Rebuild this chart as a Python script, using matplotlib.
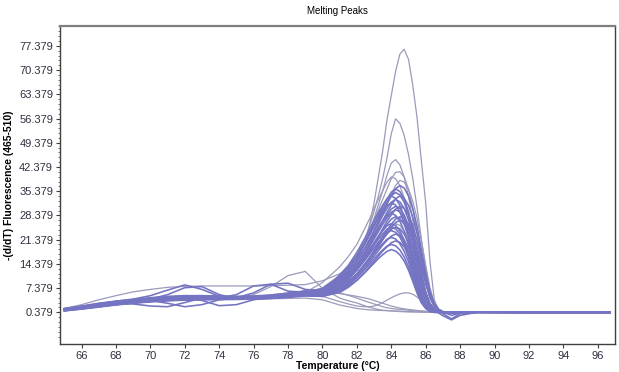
import matplotlib
matplotlib.use("Agg")
import matplotlib.pyplot as plt
from matplotlib.ticker import FixedLocator

plt.rcParams['font.family'] = ['Liberation Sans', 'DejaVu Sans']

# Temperature grid (°C) shared by all curves
temps = [65, 66, 67, 68, 69, 70, 71, 72, 73, 74, 75, 76, 77, 78, 79,
         80, 81, 81.5, 82, 82.5, 82.75, 83, 83.25, 83.5, 83.75, 84, 84.25, 84.5, 84.75, 85,
         85.25, 85.5, 85.75, 86, 86.25, 86.5, 86.75, 87,
         87.5, 88, 89, 92, 96.7]

# ---- dense band of melting curves ----
band_b37 = [1.0, 1.6, 2.3, 2.9, 3.4, 3.8, 4.1, 4.3, 4.4, 4.5, 4.5, 4.6, 4.8, 5.1, 5.8,
            6.8, 10, 12.2, 15.2, 19.2, 21.5, 24, 26.6, 29.2, 31.8, 34, 36.1, 37, 36.3, 34,
            30.3, 25.2, 18.5, 11.8, 6.3, 3.0, 1.3, 0.6, 0.3, 0.4, 0.4, 0.38, 0.38]
band_b36 = [1.4, 2.0, 2.8, 3.5, 4.0, 4.5, 4.8, 5.0, 5.0, 4.9, 4.8, 4.8, 5.0, 5.4, 6.2,
            7.2, 10.8, 13.3, 16.6, 20.9, 23.4, 25.9, 28.4, 31, 33.1, 35.1, 36, 35.3, 33.1, 29.5,
            24.5, 18, 11.5, 6.1, 2.9, 1.3, 0.6, 0.4, 0.3, 0.4, 0.4, 0.38, 0.38]
band_b35 = [0.8, 1.3, 1.9, 2.5, 3.0, 3.4, 3.7, 3.9, 4.0, 4.1, 4.1, 4.2, 4.4, 4.8, 5.4,
            7, 10.5, 13, 16.1, 20.3, 22.8, 25.2, 27.7, 30.1, 32.2, 34.1, 35, 34.3, 32.2, 28.7,
            23.8, 17.5, 11.2, 6, 2.8, 1.2, 0.5, 0.4, 0.3, 0.4, 0.4, 0.38, 0.38]
band_b34 = [1.2, 1.8, 2.5, 3.1, 3.6, 4.2, 5.5, 7.5, 7.8, 5.5, 4.3, 4.4, 4.6, 5.0, 5.8,
            6.3, 9.2, 11.2, 13.9, 17.7, 19.7, 22.1, 24.5, 26.9, 29.2, 31.3, 33.2, 34, 33.3, 31.3,
            27.9, 23.1, 17, 10.9, 5.8, 2.7, 1.2, 0.5, -0.5, 0.2, 0.4, 0.38, 0.38]
band_b34m = [1.1, 1.7, 2.4, 3.0, 3.5, 3.9, 4.2, 4.4, 4.5, 4.5, 4.5, 4.6, 4.8, 5.2, 5.9,
             6.3, 11.2, 13.9, 17.7, 22.1, 24.5, 26.9, 29.2, 31.3, 33.2, 34, 33.3, 31.3, 27.9, 23.1,
             17, 10.9, 5.8, 2.7, 1.2, 0.5, 0.4, 0.4, 0.3, 0.4, 0.4, 0.38, 0.38]
band_b33 = [1.1, 1.7, 2.4, 3.0, 3.5, 3.9, 4.2, 4.3, 4.4, 4.4, 4.6, 6.0, 8.5, 8.8, 7.0,
            6.6, 9.9, 12.2, 15.2, 19.1, 21.5, 23.8, 26.1, 28.4, 30.4, 32.2, 33, 32.3, 30.4, 27.1,
            22.4, 16.5, 10.6, 5.6, 2.6, 1.2, 0.5, 0.4, 0.3, 0.4, 0.4, 0.38, 0.38]
band_b32 = [1.3, 1.9, 2.6, 3.0, 2.8, 2.2, 2.0, 3.2, 4.5, 4.8, 4.7, 4.7, 4.9, 5.3, 6.0,
            6, 10.6, 13.1, 16.6, 20.8, 23, 25.3, 27.5, 29.4, 31.2, 32, 31.4, 29.4, 26.2, 21.8,
            16, 10.2, 5.4, 2.6, 1.1, 0.5, 0.4, 0.4, 0.3, 0.4, 0.4, 0.38, 0.38]
band_b31 = [1.0, 1.6, 2.3, 3.0, 3.6, 4.1, 4.5, 4.6, 3.8, 2.3, 2.6, 4.0, 4.8, 5.2, 5.9,
            5.7, 8.4, 10.2, 12.7, 16.1, 18, 20.2, 22.3, 24.5, 26.7, 28.5, 30.2, 31, 30.4, 28.5,
            25.4, 21.1, 15.5, 9.9, 5.3, 2.5, 1.1, 0.0, -1.5, 0, 0.4, 0.38, 0.38]
band_b31z = [1.3, 1.9, 2.6, 3.2, 3.7, 4.2, 4.5, 4.7, 4.8, 4.8, 4.7, 4.7, 4.9, 5.3, 6.0,
             6.2, 9.3, 11.5, 14.3, 18, 20.2, 22.3, 24.5, 26.7, 28.5, 30.2, 31, 30.4, 28.5, 25.4,
             21.1, 15.5, 9.9, 5.3, 2.5, 1.1, 0.5, 0.4, 0.3, 0.4, 0.4, 0.38, 0.38]
band_b30 = [1.2, 1.8, 2.5, 3.2, 3.7, 4.1, 4.3, 4.4, 4.4, 4.5, 5.5, 8.0, 8.5, 6.5, 6.2,
            6, 9, 11.1, 13.8, 17.4, 19.5, 21.6, 23.7, 25.8, 27.6, 29.3, 30, 29.4, 27.6, 24.6,
            20.4, 15, 9.6, 5.1, 2.4, 1.1, 0.5, 0.4, 0.3, 0.4, 0.4, 0.38, 0.38]
band_b29 = [1.5, 2.2, 3.0, 3.6, 4.2, 5.2, 6.8, 8.3, 7.0, 5.0, 4.5, 4.5, 4.7, 5.0, 5.6,
            6.5, 9.6, 11.9, 15.1, 18.9, 20.9, 22.9, 24.9, 26.7, 28.3, 29, 28.4, 26.7, 23.8, 19.7,
            14.5, 9.3, 4.9, 2.3, 1.0, 0.5, 0.4, 0.4, 0.3, 0.4, 0.4, 0.38, 0.38]
band_b28 = [1.1, 1.7, 2.4, 3.0, 3.5, 3.8, 3.0, 2.0, 2.6, 4.0, 4.5, 4.6, 4.8, 5.2, 5.8,
            5.6, 8.4, 10.4, 12.9, 16.2, 18.2, 20.2, 22.1, 24.1, 25.8, 27.3, 28, 27.4, 25.8, 23,
            19, 14, 9, 4.8, 2.2, 1.0, 0.2, -0.6, -1.8, -0.5, 0.4, 0.38, 0.38]
band_b28p = [0.9, 1.4, 2.0, 2.6, 3.1, 3.5, 3.9, 4.1, 4.2, 4.2, 4.2, 4.3, 4.5, 4.9, 5.4,
             5.5, 7.6, 9.2, 11.5, 14.6, 16.2, 18.2, 20.2, 22.1, 24.1, 25.8, 27.3, 28, 27.4, 25.8,
             23, 19, 14, 9, 4.8, 2.2, 1.0, 0.4, 0.3, 0.4, 0.4, 0.38, 0.38]
band_b27 = [0.9, 1.5, 2.2, 2.8, 3.3, 3.7, 4.0, 4.2, 4.3, 4.3, 4.4, 4.5, 4.6, 4.9, 5.5,
            5.5, 7.3, 8.9, 11.1, 14, 15.7, 17.6, 19.4, 21.3, 23.2, 24.8, 26.3, 27, 26.5, 24.8,
            22.1, 18.4, 13.5, 8.6, 4.6, 2.2, 0.9, 0.4, 0.3, 0.4, 0.4, 0.38, 0.38]
band_b26 = [1.3, 2.0, 2.7, 3.3, 3.8, 4.3, 4.6, 4.8, 4.9, 4.8, 4.7, 4.8, 5.2, 5.8, 6.5,
            5.5, 8.6, 10.7, 13.5, 16.9, 18.7, 20.5, 22.4, 23.9, 25.4, 26, 25.5, 23.9, 21.3, 17.7,
            13, 8.3, 4.4, 2.1, 0.9, 0.4, 0.4, 0.4, 0.3, 0.4, 0.4, 0.38, 0.38]
band_b25 = [1.0, 1.5, 2.1, 2.7, 3.2, 3.6, 3.9, 4.1, 4.2, 4.2, 4.2, 4.3, 4.5, 4.9, 5.4,
            5.5, 7.5, 9.3, 11.5, 14.5, 16.3, 18, 19.8, 21.5, 23, 24.4, 25, 24.5, 23, 20.5,
            17, 12.5, 8, 4.3, 2, 0.9, 0.4, 0.4, 0.3, 0.4, 0.4, 0.38, 0.38]
band_b25m = [1.2, 1.8, 2.5, 3.1, 3.6, 4.0, 4.3, 4.5, 4.6, 4.6, 4.6, 4.7, 4.9, 5.2, 5.6,
             5.5, 8.3, 10.3, 13, 16.3, 18, 19.8, 21.5, 23, 24.4, 25, 24.5, 23, 20.5, 17,
             12.5, 8, 4.3, 2, 0.9, 0.4, 0.4, 0.4, 0.3, 0.4, 0.4, 0.38, 0.38]
band_b24 = [1.2, 1.8, 2.6, 3.3, 3.9, 4.4, 4.7, 4.9, 5.0, 5.0, 4.9, 4.9, 5.0, 5.3, 5.8,
            5, 7.9, 9.8, 12.5, 15.6, 17.3, 19, 20.6, 22.1, 23.4, 24, 23.5, 22.1, 19.7, 16.3,
            12, 7.7, 4.1, 1.9, 0.8, 0.4, 0.4, 0.4, 0.3, 0.4, 0.4, 0.38, 0.38]
band_b23 = [1.4, 2.1, 2.9, 3.6, 4.1, 4.6, 5.0, 5.2, 5.2, 5.1, 5.0, 5.1, 5.4, 5.9, 6.6,
            5.5, 7, 8.5, 10.6, 13.3, 15, 16.6, 18.2, 19.8, 21.2, 22.4, 23, 22.5, 21.2, 18.9,
            15.6, 11.5, 7.4, 3.9, 1.8, 0.8, 0.4, 0.4, 0.3, 0.4, 0.4, 0.38, 0.38]
band_b22 = [0.8, 1.4, 2.0, 2.6, 3.1, 3.5, 3.8, 4.0, 4.1, 4.1, 4.2, 4.3, 4.4, 4.7, 5.1,
            5, 7.3, 9, 11.4, 14.3, 15.8, 17.4, 18.9, 20.2, 21.5, 22, 21.6, 20.2, 18, 15,
            11, 7, 3.7, 1.8, 0.8, 0.4, 0.4, 0.4, 0.3, 0.4, 0.4, 0.38, 0.38]
band_b21 = [1.1, 1.7, 2.5, 3.2, 3.8, 4.3, 4.6, 4.8, 4.8, 4.7, 4.6, 4.6, 4.8, 5.2, 5.7,
            5, 6.5, 7.8, 9.7, 12.2, 13.7, 15.1, 16.6, 18.1, 19.3, 20.5, 21, 20.6, 19.3, 17.2,
            14.3, 10.5, 6.7, 3.6, 1.7, 0.7, 0.4, 0.4, 0.3, 0.4, 0.4, 0.38, 0.38]
band_b20 = [1.2, 1.9, 2.7, 3.4, 4.0, 4.4, 4.6, 4.7, 4.7, 4.6, 4.6, 4.7, 4.9, 5.1, 5.4,
            5, 6.6, 8.2, 10.4, 13, 14.4, 15.8, 17.2, 18.4, 19.5, 20, 19.6, 18.4, 16.4, 13.6,
            10, 6.4, 3.4, 1.6, 0.7, 0.4, 0.4, 0.4, 0.3, 0.4, 0.4, 0.38, 0.38]
band_b18 = [1.0, 1.6, 2.3, 2.9, 3.4, 3.8, 4.0, 4.2, 4.3, 4.3, 4.3, 4.4, 4.6, 4.9, 5.2,
            5, 6.1, 7.6, 9.6, 12, 13.3, 14.6, 15.9, 17, 18, 18.5, 18.1, 17, 15.2, 12.6,
            9.3, 5.9, 3.1, 1.5, 0.6, 0.4, 0.4, 0.4, 0.3, 0.4, 0.4, 0.38, 0.38]

# ---- curves standing out of the band ----
plateau = [1.5, 2.6, 4.0, 5.2, 6.3, 7.0, 7.6, 7.9, 8.0, 8.0, 8.0, 8.0, 8.1, 8.2, 8.4,
           9.5, 11.5, 13, 14.5, 16.5, 17.7, 19, 20.5, 22.4, 23.9, 25.4, 26, 25.5, 23.9, 21.3,
           17.7, 13, 8.3, 4.4, 2.1, 0.9, 0.4, 0.4, 0.3, 0.4, 0.4, 0.38, 0.38]
tall_77 = [1.2, 1.8, 2.5, 3.2, 3.6, 4.0, 4.2, 4.4, 4.5, 4.6, 4.6, 4.7, 4.9, 5.2, 5.8,
           7, 10, 12.5, 15, 21, 26, 32, 39.5, 47, 56, 63, 70, 75, 76.4, 73.5,
           66, 56.5, 44, 32, 15, 4, 1, 0.5, 0.3, 0.4, 0.4, 0.38, 0.38]
tall_56 = [1.1, 1.7, 2.4, 3.0, 3.5, 3.9, 4.1, 4.3, 4.4, 4.5, 4.5, 4.6, 4.8, 5.1, 5.7,
           7, 10.5, 13, 16.5, 22, 25.5, 29.5, 34, 39, 45, 52, 56.3, 55, 51.5, 46,
           39, 30.5, 21.5, 13, 6.5, 2.5, 1.0, 0.5, 0.3, 0.4, 0.4, 0.38, 0.38]
upper_44 = [1.3, 1.9, 2.6, 3.2, 3.7, 4.1, 4.3, 4.5, 4.6, 4.6, 4.6, 4.7, 4.9, 5.3, 5.9,
            7, 10, 12.5, 16, 21, 24, 27.5, 31.5, 35.5, 40, 43.5, 44.5, 43, 39.5, 34,
            27, 19.5, 12.5, 6.5, 3, 1.3, 0.6, 0.4, 0.3, 0.4, 0.4, 0.38, 0.38]
upper_41 = [1.0, 1.6, 2.3, 2.9, 3.4, 3.8, 4.1, 4.3, 4.4, 4.4, 4.5, 4.6, 4.8, 5.2, 5.8,
            7.5, 11, 13.5, 17, 21.5, 24, 27, 30, 33, 36, 39, 40.8, 41, 39.5, 36,
            30.5, 23.5, 16, 9.5, 4.5, 1.8, 0.7, 0.4, 0.3, 0.4, 0.4, 0.38, 0.38]
upper_39 = [1.2, 1.8, 2.6, 3.3, 3.8, 4.2, 4.5, 4.6, 4.7, 4.7, 4.7, 4.8, 5.0, 5.4, 6.1,
            9, 13.5, 16.5, 20, 25, 27.5, 30.5, 33, 35.5, 38, 39.5, 39, 37, 33.5, 28.5,
            22, 15, 8.5, 4, 1.8, 0.8, 0.4, 0.4, 0.3, 0.4, 0.4, 0.38, 0.38]
upper_38 = [0.9, 1.5, 2.2, 2.8, 3.3, 3.7, 4.0, 4.2, 4.3, 4.3, 4.4, 4.5, 4.7, 5.0, 5.5,
            6, 8.5, 10.5, 13.5, 17.5, 20, 22.5, 25.5, 28.5, 31.5, 34.5, 37, 38.5, 38, 36,
            32.5, 27.5, 21, 14, 7.5, 3, 1.2, 0.5, 0.3, 0.4, 0.4, 0.38, 0.38]
bump_79 = [1.2, 1.8, 2.5, 3.1, 3.5, 3.8, 4.0, 4.1, 4.2, 4.3, 4.5, 5.5, 7.8, 11.0, 12.2,
           7.3, 4.5, 3.7, 3.1, 2.2, 1.8, 1.5, 1.2, 1.0, 0.9, 0.8, 0.7, 0.6, 0.55, 0.5,
           0.5, 0.5, 0.45, 0.4, 0.4, 0.4, 0.4, 0.4, 0.4, 0.4, 0.4, 0.38, 0.38]
hump_85 = [1.1, 1.7, 2.4, 3.0, 3.5, 3.9, 4.2, 4.4, 4.5, 4.5, 4.6, 4.7, 4.9, 5.1, 5.3,
           5, 3.5, 2.8, 2.2, 2.0, 2.0, 2.2, 2.6, 3.2, 3.9, 4.6, 5.2, 5.7, 6.0, 6.0,
           5.6, 4.8, 3.8, 2.8, 1.9, 1.2, 0.7, 0.5, 0.4, 0.4, 0.4, 0.38, 0.38]
decline_a = [1.0, 1.6, 2.3, 2.9, 3.4, 3.8, 4.1, 4.3, 4.4, 4.5, 4.6, 4.9, 5.4, 6.0, 6.5,
             7.2, 6.0, 5.3, 4.5, 3.6, 3.2, 2.8, 2.4, 2.0, 1.7, 1.5, 1.35, 1.2, 1.1, 1.0,
             0.9, 0.8, 0.7, 0.6, 0.55, 0.5, 0.45, 0.4, 0.4, 0.4, 0.4, 0.38, 0.38]
decline_b = [1.2, 1.8, 2.5, 3.1, 3.6, 4.0, 4.3, 4.5, 4.6, 4.6, 4.7, 5.0, 5.3, 5.7, 6.0,
             6.5, 5.8, 5.4, 5.0, 4.5, 4.2, 3.8, 3.4, 3.0, 2.6, 2.2, 1.9, 1.6, 1.4, 1.2,
             1.05, 0.9, 0.8, 0.7, 0.6, 0.5, 0.45, 0.4, 0.4, 0.4, 0.4, 0.38, 0.38]
decline_c = [0.9, 1.5, 2.2, 2.8, 3.3, 3.7, 4.0, 4.2, 4.3, 4.3, 4.3, 4.3, 4.3, 4.4, 4.5,
             4.0, 2.5, 2.0, 1.5, 1.2, 1.1, 1.0, 0.95, 0.9, 0.85, 0.8, 0.75, 0.7, 0.65, 0.6,
             0.55, 0.5, 0.5, 0.45, 0.45, 0.4, 0.4, 0.4, 0.4, 0.4, 0.4, 0.38, 0.38]

band_curves = [band_b37, band_b36, band_b35, band_b34, band_b34m, band_b33, band_b32,
               band_b31, band_b31z, band_b30, band_b29, band_b28, band_b28p, band_b27,
               band_b26, band_b25, band_b25m, band_b24, band_b23, band_b22, band_b21,
               band_b20, band_b18]
outlier_curves = [plateau, tall_77, tall_56, upper_44, upper_41, upper_39, upper_38,
                  bump_79, hump_85, decline_a, decline_b, decline_c]

y_ticks = [0.379, 7.379, 14.379, 21.379, 28.379, 35.379, 42.379, 49.379, 56.379, 63.379, 70.379, 77.379]
x_ticks = [66, 68, 70, 72, 74, 76, 78, 80, 82, 84, 86, 88, 90, 92, 94, 96]

for c in band_curves + outlier_curves:
    assert len(c) == len(temps)

fig = plt.figure(figsize=(6.19, 3.72), dpi=100)
ax = fig.add_axes([0.097, 0.075, 0.8965, 0.855])

for c in outlier_curves:
    ax.plot(temps, c, color='#9a9abb', lw=0.9, solid_joinstyle='round')
for c in band_curves:
    ax.plot(temps, c, color='#7474c3', lw=1.15, solid_joinstyle='round')

ax.set_xlim(64.75, 97.0)
ax.set_ylim(-8.8, 83.1)
ax.yaxis.set_major_locator(FixedLocator(y_ticks))
ax.set_yticklabels([f"{v:.3f}" for v in y_ticks])
ax.yaxis.set_minor_locator(FixedLocator([y_ticks[0] + 1.4 * k - 7 for k in range(0, 66)]))
ax.xaxis.set_major_locator(FixedLocator(x_ticks))
ax.set_xticklabels([str(v) for v in x_ticks])

ax.tick_params(axis='both', which='major', labelsize=8, length=3, width=0.8,
               color='#404040', labelcolor='#303040', pad=2)
ax.tick_params(axis='y', which='minor', length=1.8, width=0.6, color='#606060')

for side in ['left', 'bottom', 'right']:
    ax.spines[side].set_color('#404040')
    ax.spines[side].set_linewidth(1.0)
ax.spines['top'].set_color('#808080')
ax.spines['top'].set_linewidth(1.6)

ax.set_xlabel('Temperature (°C)', fontsize=7.5, fontweight='bold', labelpad=0)
ax.set_ylabel('-(d/dT) Fluorescence (465-510)', fontsize=7.5, fontweight='bold', labelpad=4)
ax.set_title('Melting Peaks', fontsize=7, pad=9)

fig.savefig('out.png', dpi=100)
